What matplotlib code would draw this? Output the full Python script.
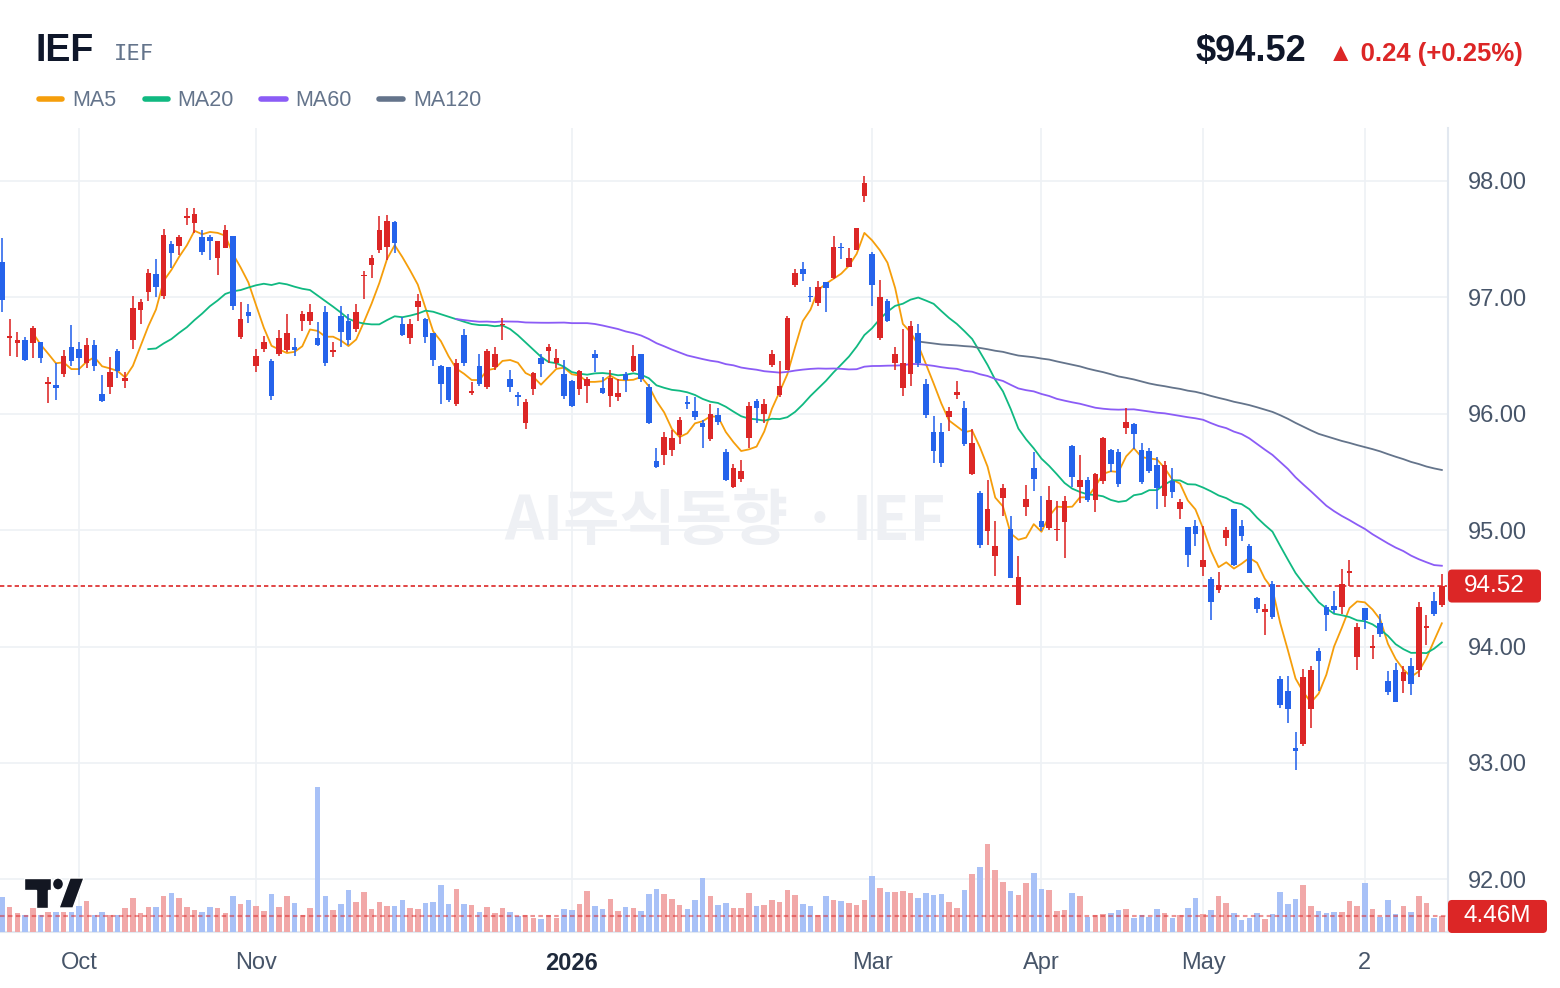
import numpy as np
import pandas as pd
import matplotlib
matplotlib.use('Agg')
import matplotlib.pyplot as plt
import matplotlib.transforms as mtransforms
from matplotlib.patches import FancyBboxPatch, Polygon, Ellipse
from matplotlib.lines import Line2D

plt.rcParams['font.family'] = ['Liberation Sans', 'DejaVu Sans']

ticker = 'IEF'
watermark = 'AI주식동향 · IEF'

# daily OHLC, one entry per trading day (oldest first)
opens = [
    97.30, 96.65, 96.61, 96.63, 96.61, 96.62, 96.26, 96.25, 96.34, 96.57,
    96.56, 96.44, 96.59, 96.17, 96.23, 96.54, 96.28, 96.63, 96.89, 97.05,
    97.20, 97.01, 97.46, 97.44, 97.68, 97.64, 97.52, 97.52, 97.34, 97.42,
    97.53, 96.66, 96.87, 96.41, 96.56, 96.45, 96.51, 96.55, 96.57, 96.80,
    96.80, 96.65, 96.87, 96.53, 96.84, 96.80, 96.73, 97.18, 97.28, 97.41,
    97.43, 97.65, 96.77, 96.65, 96.92, 96.81, 96.69, 96.41, 96.40, 96.08,
    96.68, 96.18, 96.41, 96.23, 96.40, 96.76, 96.30, 96.16, 95.92, 96.21,
    96.48, 96.54, 96.44, 96.34, 96.28, 96.21, 96.24, 96.51, 96.22, 96.15,
    96.14, 96.34, 96.37, 96.51, 96.23, 95.59, 95.65, 95.69, 95.82, 96.10,
    96.02, 95.92, 95.78, 95.99, 95.67, 95.37, 95.44, 95.79, 96.11, 96.00,
    96.42, 96.16, 96.38, 97.11, 97.24, 97.01, 96.95, 97.13, 97.17, 97.43,
    97.26, 97.41, 97.87, 97.37, 96.65, 96.97, 96.44, 96.22, 96.34, 96.69,
    96.26, 95.84, 95.84, 95.97, 96.16, 96.05, 95.48, 95.32, 94.99, 94.78,
    95.28, 95.01, 94.36, 95.20, 95.53, 95.08, 95.02, 95.00, 95.07, 95.72,
    95.37, 95.43, 95.26, 95.42, 95.69, 95.67, 95.88, 95.91, 95.69, 95.68,
    95.56, 95.29, 95.42, 95.18, 95.03, 95.04, 94.68, 94.58, 94.49, 94.93,
    95.18, 95.04, 94.86, 94.42, 94.30, 94.54, 93.72, 93.62, 93.13, 93.16,
    93.46, 93.96, 94.34, 94.35, 94.34, 94.63, 93.91, 94.33, 93.99, 94.20,
    93.70, 93.80, 93.70, 93.83, 93.80, 94.16, 94.39, 94.36,
]
highs = [
    97.51, 96.81, 96.70, 96.66, 96.75, 96.62, 96.32, 96.44, 96.55, 96.76,
    96.62, 96.65, 96.63, 96.33, 96.49, 96.56, 96.36, 97.01, 96.99, 97.24,
    97.33, 97.59, 97.48, 97.54, 97.77, 97.77, 97.58, 97.54, 97.48, 97.62,
    97.53, 96.96, 96.94, 96.56, 96.67, 96.47, 96.72, 96.86, 96.65, 96.88,
    96.94, 96.79, 96.93, 96.62, 96.93, 96.86, 96.94, 97.23, 97.36, 97.70,
    97.71, 97.66, 96.83, 96.81, 97.03, 96.82, 96.69, 96.42, 96.40, 96.47,
    96.73, 96.27, 96.51, 96.56, 96.57, 96.82, 96.38, 96.19, 96.13, 96.36,
    96.51, 96.60, 96.56, 96.46, 96.29, 96.38, 96.32, 96.55, 96.32, 96.38,
    96.30, 96.36, 96.59, 96.51, 96.26, 95.71, 95.84, 95.86, 95.97, 96.15,
    96.14, 95.95, 96.08, 96.05, 95.70, 95.57, 95.60, 96.10, 96.13, 96.13,
    96.55, 96.45, 96.84, 97.24, 97.30, 97.09, 97.14, 97.13, 97.53, 97.47,
    97.42, 97.60, 98.04, 97.39, 97.15, 96.99, 96.57, 96.73, 96.80, 96.77,
    96.30, 95.98, 95.92, 96.06, 96.28, 96.11, 95.87, 95.34, 95.43, 95.08,
    95.40, 95.12, 94.78, 95.39, 95.67, 95.29, 95.38, 95.25, 95.29, 95.73,
    95.65, 95.46, 95.49, 95.80, 95.70, 95.70, 96.05, 95.92, 95.75, 95.71,
    95.63, 95.59, 95.53, 95.27, 95.03, 95.09, 95.04, 94.60, 94.64, 95.03,
    95.18, 95.09, 94.88, 94.43, 94.37, 94.56, 93.75, 93.75, 93.27, 93.81,
    93.83, 93.99, 94.36, 94.48, 94.67, 94.74, 94.20, 94.33, 94.10, 94.28,
    93.79, 93.86, 93.83, 93.90, 94.38, 94.27, 94.47, 94.62,
]
lows = [
    96.87, 96.50, 96.49, 96.45, 96.48, 96.44, 96.09, 96.12, 96.32, 96.41,
    96.33, 96.39, 96.37, 96.10, 96.17, 96.31, 96.22, 96.56, 96.77, 96.97,
    97.00, 96.99, 97.25, 97.36, 97.62, 97.55, 97.36, 97.32, 97.19, 97.42,
    96.89, 96.64, 96.78, 96.36, 96.53, 96.12, 96.50, 96.53, 96.50, 96.71,
    96.76, 96.58, 96.41, 96.49, 96.57, 96.59, 96.70, 96.99, 97.17, 97.38,
    97.32, 97.38, 96.67, 96.60, 96.80, 96.61, 96.41, 96.08, 96.10, 96.07,
    96.41, 96.16, 96.24, 96.21, 96.38, 96.63, 96.19, 96.07, 95.87, 96.16,
    96.32, 96.44, 96.39, 96.13, 96.06, 96.16, 96.09, 96.36, 96.17, 96.06,
    96.11, 96.19, 96.36, 96.27, 95.91, 95.53, 95.56, 95.64, 95.74, 96.04,
    95.95, 95.71, 95.77, 95.90, 95.42, 95.36, 95.41, 95.71, 95.92, 95.92,
    96.40, 96.14, 96.38, 97.09, 97.14, 96.96, 96.93, 96.87, 97.16, 97.33,
    97.26, 97.41, 97.82, 96.93, 96.63, 96.79, 96.38, 96.15, 96.24, 96.40,
    95.96, 95.58, 95.54, 95.85, 96.13, 95.72, 95.47, 94.85, 94.87, 94.61,
    95.12, 94.59, 94.36, 95.12, 95.34, 94.99, 95.00, 94.91, 94.76, 95.37,
    95.23, 95.24, 95.16, 95.40, 95.50, 95.37, 95.83, 95.70, 95.40, 95.49,
    95.18, 95.20, 95.28, 95.10, 94.68, 94.86, 94.61, 94.23, 94.46, 94.86,
    94.69, 94.91, 94.63, 94.29, 94.10, 94.24, 93.47, 93.34, 92.94, 93.15,
    93.30, 93.62, 94.13, 94.29, 94.28, 94.52, 93.80, 94.15, 93.89, 94.08,
    93.58, 93.52, 93.60, 93.58, 93.74, 94.01, 94.26, 94.34,
]
closes = [
    96.98, 96.67, 96.63, 96.46, 96.74, 96.48, 96.27, 96.22, 96.50, 96.45,
    96.48, 96.59, 96.41, 96.11, 96.36, 96.37, 96.31, 96.91, 96.96, 97.21,
    97.09, 97.54, 97.38, 97.52, 97.70, 97.72, 97.39, 97.48, 97.48, 97.58,
    96.93, 96.81, 96.84, 96.50, 96.62, 96.15, 96.65, 96.69, 96.55, 96.86,
    96.87, 96.59, 96.44, 96.55, 96.70, 96.63, 96.87, 97.19, 97.34, 97.58,
    97.66, 97.47, 96.68, 96.77, 96.97, 96.66, 96.46, 96.26, 96.12, 96.44,
    96.44, 96.19, 96.26, 96.54, 96.51, 96.77, 96.23, 96.14, 96.10, 96.35,
    96.43, 96.57, 96.48, 96.15, 96.07, 96.37, 96.30, 96.48, 96.18, 96.31,
    96.18, 96.29, 96.50, 96.30, 95.92, 95.54, 95.80, 95.79, 95.95, 96.08,
    95.97, 95.89, 96.00, 95.93, 95.43, 95.53, 95.51, 96.07, 96.05, 96.08,
    96.51, 96.24, 96.82, 97.21, 97.20, 97.00, 97.09, 97.08, 97.43, 97.42,
    97.34, 97.60, 97.98, 97.11, 97.00, 96.80, 96.51, 96.44, 96.75, 96.44,
    95.99, 95.68, 95.58, 96.02, 96.19, 95.74, 95.75, 94.87, 95.18, 94.86,
    95.36, 94.59, 94.60, 95.27, 95.44, 95.03, 95.26, 95.01, 95.25, 95.46,
    95.43, 95.26, 95.48, 95.79, 95.57, 95.40, 95.93, 95.83, 95.41, 95.51,
    95.36, 95.56, 95.33, 95.24, 94.79, 94.97, 94.74, 94.38, 94.53, 95.00,
    94.70, 94.95, 94.63, 94.32, 94.32, 94.25, 93.50, 93.46, 93.10, 93.74,
    93.80, 93.88, 94.27, 94.31, 94.54, 94.65, 94.17, 94.23, 94.00, 94.11,
    93.61, 93.52, 93.78, 93.68, 94.34, 94.18, 94.28, 94.52,
]
# volume in millions of shares
volumes = [
    9.92, 7.05, 5.32, 4.94, 6.76, 4.94, 5.61, 5.61, 5.61, 5.61,
    7.53, 8.77, 4.94, 5.80, 4.94, 4.94, 6.76, 9.64, 5.32, 7.05,
    7.24, 10.40, 11.27, 9.64, 7.05, 6.18, 5.80, 7.05, 6.76, 5.32,
    10.21, 8.10, 9.06, 7.33, 5.90, 10.79, 7.05, 10.40, 8.39, 4.75,
    6.76, 41.56, 10.21, 6.18, 8.10, 11.94, 8.49, 11.36, 6.47, 8.49,
    7.33, 7.33, 9.06, 6.76, 6.47, 8.20, 8.49, 13.37, 7.91, 12.22,
    7.91, 7.62, 5.80, 7.05, 5.32, 6.76, 5.61, 4.46, 4.75, 3.88,
    3.60, 4.75, 3.88, 6.47, 6.18, 7.91, 11.65, 7.33, 6.47, 9.35,
    5.90, 7.05, 6.76, 5.90, 10.79, 12.22, 10.79, 9.35, 7.62, 6.47,
    9.06, 15.39, 10.21, 7.62, 8.20, 6.76, 6.76, 11.07, 7.33, 7.62,
    9.06, 8.49, 11.94, 10.50, 7.91, 7.33, 4.75, 10.21, 9.06, 8.77,
    8.20, 7.62, 9.06, 15.96, 12.51, 11.36, 11.36, 11.65, 11.07, 9.64,
    11.07, 10.50, 10.79, 8.49, 6.76, 11.94, 16.54, 18.55, 25.17, 17.69,
    14.24, 11.65, 10.50, 13.95, 16.83, 12.22, 11.94, 5.90, 6.18, 11.07,
    10.21, 4.17, 4.75, 5.03, 5.32, 6.18, 6.47, 3.88, 4.75, 4.17,
    6.47, 5.32, 3.88, 4.75, 6.76, 9.64, 5.03, 6.18, 10.21, 8.20,
    5.32, 3.31, 3.88, 5.32, 3.60, 5.03, 11.36, 7.91, 9.35, 13.37,
    7.33, 5.90, 5.32, 5.61, 5.61, 8.77, 7.33, 13.95, 6.47, 4.17,
    9.06, 5.03, 7.33, 5.61, 10.21, 8.20, 3.88, 4.46,
]

# x-axis labels and the bar index they sit on
tick_idx = [10, 33, 74, 113, 135, 156, 177]
tick_labels = ['Oct', 'Nov', '2026', 'Mar', 'Apr', 'May', '2']
price_ticks = [92, 93, 94, 95, 96, 97, 98]

ma_windows = [5, 20, 60, 120]
ma_colors = ['#f59e0b', '#10b981', '#8b5cf6', '#64748b']

RED = '#dc2626'
BLUE = '#2563eb'
RED_VOL = '#f1a8a8'
BLUE_VOL = '#a8c1f7'
GRID = '#eef1f5'
AXIS_TXT = '#475569'

df = pd.DataFrame({'open': opens, 'high': highs, 'low': lows,
                   'close': closes, 'volume': volumes})
x = np.arange(len(df))
up = (df['close'] >= df['open']).values

W, H = 1560, 988
fig = plt.figure(figsize=(W / 100, H / 100), dpi=100)
# pixel coords with origin at top-left, for header / badges
pix = mtransforms.Affine2D().scale(1 / W, -1 / H).translate(0, 1) + fig.transFigure

rect = [0, 1 - 932 / H, 1448 / W, (932 - 128) / H]
ax = fig.add_axes(rect)
axv = fig.add_axes(rect, sharex=ax)
axv.patch.set_visible(False)

ax.set_xlim(-0.26, 187.8)
ax.set_ylim(91.548, 98.455)
axv.set_ylim(0, 231)

# grid + axes styling
ax.set_axisbelow(True)
ax.grid(True, color=GRID, lw=1.2)
for s in ['top', 'left']:
    ax.spines[s].set_visible(False)
for s in ['right', 'bottom']:
    ax.spines[s].set_color('#e2e8f0')
    ax.spines[s].set_linewidth(1.5)
axv.axis('off')

ax.yaxis.tick_right()
ax.set_yticks(price_ticks)
ax.set_yticklabels([f'{p:.2f}' for p in price_ticks])
ax.tick_params(axis='y', length=0, pad=14, labelsize=17, labelcolor=AXIS_TXT)
ax.set_xticks(tick_idx)
ax.set_xticklabels(tick_labels)
ax.tick_params(axis='x', length=0, pad=14.5, labelsize=17, labelcolor=AXIS_TXT)
for lbl in ax.get_xticklabels():
    if lbl.get_text() == '2026':
        lbl.set_fontweight('bold')
        lbl.set_color('#1e293b')

# watermark
ax.text(725 / W, 1 - 522 / H, watermark, transform=fig.transFigure,
        family=['Noto Sans CJK KR', 'DejaVu Sans'], fontsize=44, fontweight='bold',
        color='#eef0f4', ha='center', va='center', zorder=0)

# moving averages
for w, col in zip(ma_windows, ma_colors):
    ma = df['close'].rolling(w).mean()
    ax.plot(x, ma, color=col, lw=1.3, zorder=2)

# candles
cols = np.where(up, RED, BLUE)
ax.vlines(x, df['low'], df['high'], colors=cols, lw=1.15, zorder=3)
body_low = np.minimum(df['open'], df['close'])
body_h = np.maximum((df['close'] - df['open']).abs(), 0.012)
ax.bar(x, body_h, bottom=body_low, width=0.72, color=cols, lw=0, zorder=4)

# last price line
last = df['close'].iloc[-1]
prev = df['close'].iloc[-2]
ax.axhline(last, color=RED, lw=1.2, dashes=(2.6, 1.8), zorder=2)

# volume
vcols = np.where(up, RED_VOL, BLUE_VOL)
axv.bar(x, df['volume'], width=0.72, color=vcols, lw=0, zorder=1)
last_vol = df['volume'].iloc[-1]
axv.axhline(last_vol, color=RED, alpha=0.5, lw=1.5, dashes=(2.2, 1.6), zorder=2)

# right-side badges
def badge(yc, w, text):
    fig.add_artist(FancyBboxPatch((1448, yc - 16.5), w, 33,
                                  boxstyle='round,pad=0,rounding_size=4',
                                  fc=RED, ec='none', transform=pix, zorder=10))
    fig.text(1448 + w / 2, yc, text, transform=pix, ha='center', va='center',
             color='white', fontsize=17.5, zorder=11)

y_last = H - ax.transData.transform((0, last))[1]
y_vol = H - axv.transData.transform((0, last_vol))[1]
badge(y_last, 93, f'{last:.2f}')
badge(y_vol, 99, f'{last_vol:.2f}M')

# header
fig.text(36, 61, ticker, transform=pix, fontsize=27, fontweight='bold',
         color='#0f172a', va='baseline')
fig.text(114, 60, ticker, transform=pix, fontsize=16, family='DejaVu Sans Mono',
         color='#64748b', va='baseline')
chg = last - prev
pct = chg / prev * 100
fig.text(1306, 61, f'${last:.2f}', transform=pix, fontsize=26, fontweight='bold',
         color='#0f172a', ha='right', va='baseline')
fig.text(1523, 61, f'▲ {chg:.2f} (+{pct:.2f}%)', transform=pix, fontsize=18.5,
         fontweight='bold', color=RED, ha='right', va='baseline')

# legend row
legend_pos = [(36, 64, 72), (142, 170, 177), (258, 288, 295), (376, 405, 413)]
for (x0, x1, xt), w, col in zip(legend_pos, ma_windows, ma_colors):
    fig.add_artist(Line2D([x0 + 2.5, x1 - 2.5], [99, 99], transform=pix, color=col,
                          lw=4, solid_capstyle='round'))
    fig.text(xt, 106, f'MA{w}', transform=pix, fontsize=15.5, color='#64748b',
             va='baseline')

# TradingView logo
logo = '#131722'
fig.add_artist(Polygon([(24, 878), (51, 878), (51, 890), (48, 890), (48, 908),
                        (36, 908), (36, 890), (24, 890)], closed=True,
                       transform=pix, fc=logo, ec='white', lw=1, zorder=12))
fig.add_artist(Ellipse((58, 884), 11, 12, transform=pix, fc=logo, ec='white',
                       lw=1, zorder=12))
fig.add_artist(Polygon([(70, 878), (84, 878), (73, 908), (59, 908)], closed=True,
                       transform=pix, fc=logo, ec='white', lw=1, zorder=12))

fig.savefig('out.png', dpi=100, facecolor='white')
